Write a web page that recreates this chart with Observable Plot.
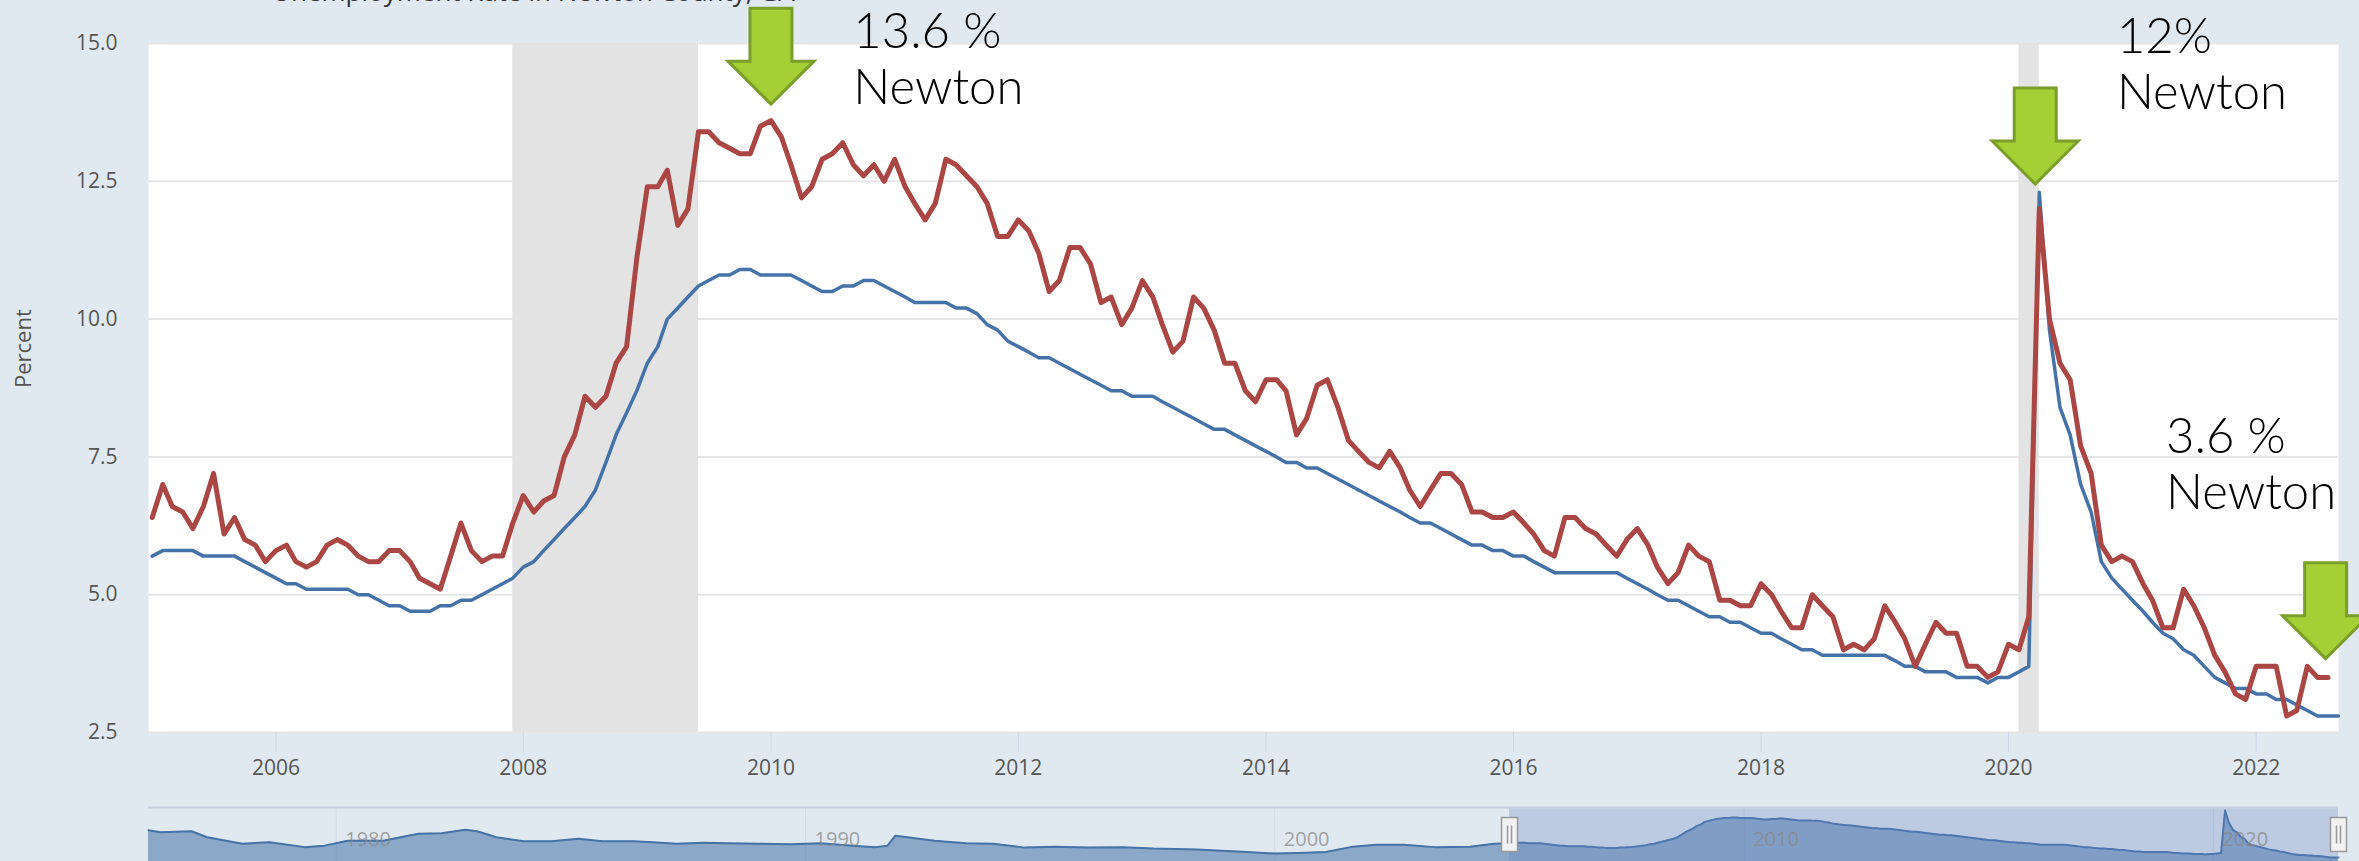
<!DOCTYPE html>
<html>
<head>
<meta charset="utf-8">
<script src="https://cdn.jsdelivr.net/npm/d3@7"></script>
<script src="https://cdn.jsdelivr.net/npm/@observablehq/plot@0.6"></script>
<style>
  html, body { margin: 0; padding: 0; background: #e1e9f0; width: 2359px; height: 861px; overflow: hidden; }
  #wrap { position: relative; width: 2359px; height: 861px; }
  #title { position: absolute; left: 272px; top: -22px; font-family: "Open Sans"; font-size: 26px; line-height: 26px; color: #333; white-space: nowrap; }
  #main { position: absolute; left: 0; top: 0; }
  #nav { position: absolute; left: 0; top: 780px; }
</style>
</head>
<body>
<div id="wrap">
  <div id="title">Unemployment Rate in Newton County, GA</div>
  <div id="main"></div>
  <div id="nav"></div>
</div>
<script>
// ---------- data (monthly, starting January 2005) ----------
const seriesStart = "2005-01-01";
const newtonRate = [
  6.4,7.0,6.6,6.5,6.2,6.6,7.2,6.1,6.4,6.0,5.9,5.6,
  5.8,5.9,5.6,5.5,5.6,5.9,6.0,5.9,5.7,5.6,5.6,5.8,
  5.8,5.6,5.3,5.2,5.1,5.7,6.3,5.8,5.6,5.7,5.7,6.3,
  6.8,6.5,6.7,6.8,7.5,7.9,8.6,8.4,8.6,9.2,9.5,11.1,
  12.4,12.4,12.7,11.7,12.0,13.4,13.4,13.2,13.1,13.0,13.0,13.5,
  13.6,13.3,12.8,12.2,12.4,12.9,13.0,13.2,12.8,12.6,12.8,12.5,
  12.9,12.4,12.1,11.8,12.1,12.9,12.8,12.6,12.4,12.1,11.5,11.5,
  11.8,11.6,11.2,10.5,10.7,11.3,11.3,11.0,10.3,10.4,9.9,10.2,
  10.7,10.4,9.9,9.4,9.6,10.4,10.2,9.8,9.2,9.2,8.7,8.5,
  8.9,8.9,8.7,7.9,8.2,8.8,8.9,8.4,7.8,7.6,7.4,7.3,
  7.6,7.3,6.9,6.6,6.9,7.2,7.2,7.0,6.5,6.5,6.4,6.4,
  6.5,6.3,6.1,5.8,5.7,6.4,6.4,6.2,6.1,5.9,5.7,6.0,
  6.2,5.9,5.5,5.2,5.4,5.9,5.7,5.6,4.9,4.9,4.8,4.8,
  5.2,5.0,4.7,4.4,4.4,5.0,4.8,4.6,4.0,4.1,4.0,4.2,
  4.8,4.5,4.2,3.7,4.1,4.5,4.3,4.3,3.7,3.7,3.5,3.6,
  4.1,4.0,4.6,12.0,10.0,9.2,8.9,7.7,7.2,5.9,5.6,5.7,
  5.6,5.2,4.9,4.4,4.4,5.1,4.8,4.4,3.9,3.6,3.2,3.1,
  3.7,3.7,3.7,2.8,2.9,3.7,3.5,3.5
];
const georgiaRate = [
  5.7,5.8,5.8,5.8,5.8,5.7,5.7,5.7,5.7,5.6,5.5,5.4,
  5.3,5.2,5.2,5.1,5.1,5.1,5.1,5.1,5.0,5.0,4.9,4.8,
  4.8,4.7,4.7,4.7,4.8,4.8,4.9,4.9,5.0,5.1,5.2,5.3,
  5.5,5.6,5.8,6.0,6.2,6.4,6.6,6.9,7.4,7.9,8.3,8.7,
  9.2,9.5,10.0,10.2,10.4,10.6,10.7,10.8,10.8,10.9,10.9,10.8,
  10.8,10.8,10.8,10.7,10.6,10.5,10.5,10.6,10.6,10.7,10.7,10.6,
  10.5,10.4,10.3,10.3,10.3,10.3,10.2,10.2,10.1,9.9,9.8,9.6,
  9.5,9.4,9.3,9.3,9.2,9.1,9.0,8.9,8.8,8.7,8.7,8.6,
  8.6,8.6,8.5,8.4,8.3,8.2,8.1,8.0,8.0,7.9,7.8,7.7,
  7.6,7.5,7.4,7.4,7.3,7.3,7.2,7.1,7.0,6.9,6.8,6.7,
  6.6,6.5,6.4,6.3,6.3,6.2,6.1,6.0,5.9,5.9,5.8,5.8,
  5.7,5.7,5.6,5.5,5.4,5.4,5.4,5.4,5.4,5.4,5.4,5.3,
  5.2,5.1,5.0,4.9,4.9,4.8,4.7,4.6,4.6,4.5,4.5,4.4,
  4.3,4.3,4.2,4.1,4.0,4.0,3.9,3.9,3.9,3.9,3.9,3.9,
  3.9,3.8,3.7,3.7,3.6,3.6,3.6,3.5,3.5,3.5,3.4,3.5,
  3.5,3.6,3.7,12.3,9.8,8.4,7.9,7.0,6.5,5.6,5.3,5.1,
  4.9,4.7,4.5,4.3,4.2,4.0,3.9,3.7,3.5,3.4,3.3,3.3,
  3.2,3.2,3.1,3.1,3.0,2.9,2.8,2.8,2.8
];
// navigator history (before 2005), read coarsely from the navigator strip
const navEarlyDates = ["1976-01","1976-04","1976-12","1977-04","1978-01","1978-08","1979-05","1979-10","1980-04","1981-01",
  "1981-10","1982-04","1982-10","1983-01","1983-06","1984-01","1984-08","1985-03","1985-09","1986-05",
  "1986-10","1987-04","1987-11","1988-05","1989-01","1989-09","1990-05","1991-01","1991-07","1991-10",
  "1991-12","1992-04","1992-10","1993-06","1994-01","1994-09","1995-05","1996-01","1996-10","1997-06",
  "1998-05","1999-06","2000-01","2000-07","2001-02","2001-09","2002-03","2002-10","2003-06","2004-03","2004-09"];
const navEarlyValues = [8.3,7.9,8.1,6.9,5.6,5.9,4.9,5.2,6.2,6.2,
  7.6,7.7,8.4,8.1,6.9,6.1,6.1,6.6,6.1,6.1,
  5.9,5.6,5.8,5.7,5.6,5.5,5.7,5.2,4.9,5.2,
  7.2,6.8,6.2,5.7,5.6,4.8,5.0,4.8,4.9,4.6,
  4.4,3.9,3.6,3.7,3.9,5.0,5.4,5.4,4.9,5.0,5.6];

const recessionStarts = ["2007-12-01", "2020-02-01"];
const recessionEnds = ["2009-06-01", "2020-04-01"];

const yTicks = [2.5, 5, 7.5, 10, 12.5, 15];
const xTickYears = [2006, 2008, 2010, 2012, 2014, 2016, 2018, 2020, 2022];
const navYears = [1980, 1990, 2000, 2010, 2020];

// annotations (arrow tips and note positions, in data space)
const arrowDates = ["2010-01-01", "2020-03-20", "2022-07-25"];
const arrowValues = [13.9, 12.45, 3.84];
const noteTexts = ["13.6 %\nNewton", "12%\nNewton", "3.6 %\nNewton"];
const noteDates = ["2010-09-01", "2020-11-16", "2021-04-10"];
const noteValues = [13.91, 13.82, 6.56];

// ---------- build tables ----------
const start = new Date(seriesStart + "T00:00:00Z");
const red = newtonRate.map((v, i) => ({date: d3.utcMonth.offset(start, i), value: v}));
const blue = georgiaRate.map((v, i) => ({date: d3.utcMonth.offset(start, i), value: v}));
const recessions = recessionStarts.map((s, i) => ({start: new Date(s), end: new Date(recessionEnds[i])}));
const arrows = arrowDates.map((d, i) => ({date: new Date(d), value: arrowValues[i]}));
const notes = noteTexts.map((t, i) => ({text: t, date: new Date(noteDates[i]), value: noteValues[i]}));
const navData = navEarlyDates.map((d, i) => ({date: new Date(d + "-01"), value: navEarlyValues[i]})).concat(blue);

const arrowSymbol = {
  draw(ctx) {
    ctx.moveTo(0, 0);
    ctx.lineTo(-43, -43);
    ctx.lineTo(-21, -43);
    ctx.lineTo(-21, -96);
    ctx.lineTo(21, -96);
    ctx.lineTo(21, -43);
    ctx.lineTo(43, -43);
    ctx.closePath();
  }
};
const handleSymbol = {
  draw(ctx) {
    ctx.moveTo(-8, -17); ctx.lineTo(8, -17); ctx.lineTo(8, 17); ctx.lineTo(-8, 17); ctx.closePath();
    ctx.moveTo(-2, -9); ctx.lineTo(-2, 9);
    ctx.moveTo(2, -9); ctx.lineTo(2, 9);
  }
};

const font = "Open Sans";
const xDomain = [new Date("2004-12-21T00:00:00Z"), new Date("2022-09-01T00:00:00Z")];

const main = Plot.plot({
  width: 2359,
  height: 780,
  marginLeft: 148,
  marginRight: 21,
  marginTop: 43,
  marginBottom: 48,
  style: {background: "transparent", fontFamily: font, overflow: "visible"},
  x: {type: "utc", domain: xDomain},
  y: {domain: [2.5, 15]},
  marks: [
    Plot.frame({fill: "white", stroke: null}),
    Plot.gridY(yTicks, {stroke: "#e6e6e6", strokeOpacity: 1, strokeWidth: 2}),
    Plot.rect(recessions, {x1: "start", x2: "end", fill: "#e3e3e3"}),
    Plot.axisY(yTicks, {tickFormat: d => d.toFixed(1), tickSize: 0, tickPadding: 31, fill: "#555", fontSize: 21, label: null}),
    Plot.axisX(xTickYears.map(y => new Date(Date.UTC(y, 0, 1))), {tickFormat: d3.utcFormat("%Y"), tickSize: 20, tickPadding: 8, stroke: "#ccd6eb", fill: "#555", fontSize: 21, label: null}),
    Plot.text(["Percent"], {frameAnchor: "left", dx: -125, rotate: -90, fontSize: 22, fill: "#555"}),
    Plot.lineY(blue, {x: "date", y: "value", stroke: "#4572a7", strokeWidth: 3.5, strokeLinejoin: "round"}),
    Plot.lineY(red, {x: "date", y: "value", stroke: "#aa4643", strokeWidth: 5, strokeLinejoin: "round"}),
    Plot.dot(arrows, {x: "date", y: "value", symbol: arrowSymbol, fill: "#a6cf35", stroke: "#7b9e2b", strokeWidth: 3}),
    Plot.text(notes, {x: "date", y: "value", text: "text", textAnchor: "start", lineAnchor: "bottom", lineHeight: 1.13, fontSize: 49, fontFamily: "Lato Light, Lato", fontWeight: 300, fill: "black"})
  ]
});
document.getElementById("main").appendChild(main);

const navY = 12.9;
const nav = Plot.plot({
  width: 2359,
  height: 81,
  marginLeft: 148,
  marginRight: 21,
  marginTop: 27,
  marginBottom: 0,
  style: {background: "transparent", fontFamily: font},
  x: {type: "utc", domain: [new Date("1976-01-01T00:00:00Z"), new Date("2022-09-01T00:00:00Z")], axis: null},
  y: {domain: [0, navY], range: [90.9, 27], axis: null},
  marks: [
    Plot.ruleX(navYears.map(y => new Date(Date.UTC(y, 0, 1))), {stroke: "#d3dbe6"}),
    Plot.areaY(navData, {x: "date", y: "value", fill: "#4572a7", fillOpacity: 0.55}),
    Plot.lineY(navData, {x: "date", y: "value", stroke: "#4572a7", strokeWidth: 2}),
    Plot.rect([{start: start, end: xDomain[1]}], {x1: "start", x2: "end", fill: "rgb(102,133,194)", fillOpacity: 0.3}),
    Plot.text(navYears.map(y => ({date: new Date(Date.UTC(y, 0, 1)), label: String(y)})), {x: "date", text: "label", frameAnchor: "bottom", dy: -16, dx: 9, textAnchor: "start", fontSize: 20, fill: "#888", fillOpacity: 0.75}),
    Plot.ruleY([navY], {stroke: "#c8d2de", strokeWidth: 2}),
    Plot.dot([start, xDomain[1]], {x: d => d, symbol: handleSymbol, fill: "#f2f2f2", stroke: "#999", strokeWidth: 1.5})
  ]
});
document.getElementById("nav").appendChild(nav);
</script>
</body>
</html>
